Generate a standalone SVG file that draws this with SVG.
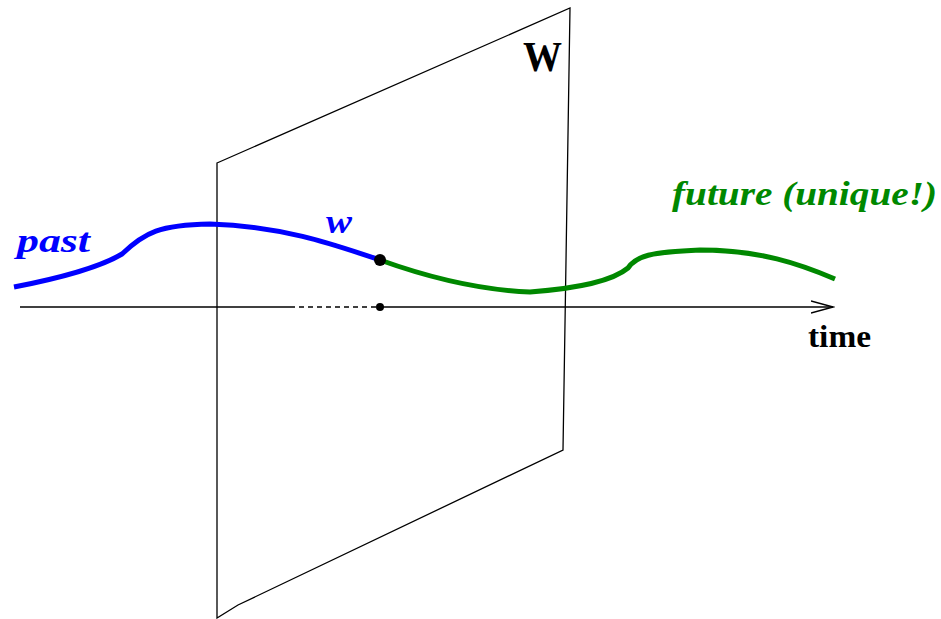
<svg xmlns="http://www.w3.org/2000/svg" width="941" height="619" viewBox="0 0 941 619">
<style>
.thin{fill:none;stroke:#000;stroke-width:1.3}
.lbl{font-family:"Liberation Serif",serif;font-weight:bold;font-style:italic}
</style>
<defs>
<marker id="arr" markerWidth="24" markerHeight="14" refX="22" refY="7" orient="auto" markerUnits="userSpaceOnUse">
<path d="M0,1 L22,7 L0,13" fill="none" stroke="#000" stroke-width="1.3"/>
</marker>
</defs>
<rect width="941" height="619" fill="#fff"/>
<g id="plane">
<path class="thin" d="M217,163 L570,8 L563,450 L238,605 L217,618 Z"/>
<text x="523" y="71" font-family="Liberation Serif,serif" font-weight="bold" font-size="42" textLength="39" lengthAdjust="spacingAndGlyphs">W</text>
</g>
<g id="connectors">
<line class="thin" x1="20" y1="307" x2="290" y2="307"/>
<line class="thin" x1="290" y1="307" x2="378" y2="307" stroke-dasharray="5,4"/>
<line class="thin" x1="380" y1="307" x2="833" y2="307" marker-end="url(#arr)"/>
</g>
<g id="past-curve">
<path d="M14,287 C50,280 95,270 122,254 C145,232 160,225 210,224 C280,226 330,243 380,260" fill="none" stroke="#0000ff" stroke-width="5"/>
<text class="lbl" x="17" y="252" font-size="33" fill="#0000ff" textLength="73" lengthAdjust="spacingAndGlyphs">past</text>
<text class="lbl" x="326" y="233" font-size="33" fill="#0000ff" textLength="26" lengthAdjust="spacingAndGlyphs">w</text>
</g>
<g id="future-curve">
<path d="M380,260 C430,278 480,290 530,292 C570,289 610,283 628,268 C636,256 650,252 700,250 C760,250 800,264 835,279" fill="none" stroke="#008800" stroke-width="5"/>
<text class="lbl" x="672" y="205" font-size="33" fill="#008800" textLength="265" lengthAdjust="spacingAndGlyphs">future (unique!)</text>
</g>
<g id="point">
<circle cx="380" cy="260" r="6" fill="#000"/>
<circle cx="380" cy="307" r="4" fill="#000"/>
</g>
<text x="808" y="347" font-family="Liberation Serif,serif" font-weight="bold" font-size="32" textLength="63" lengthAdjust="spacingAndGlyphs">time</text>
</svg>
